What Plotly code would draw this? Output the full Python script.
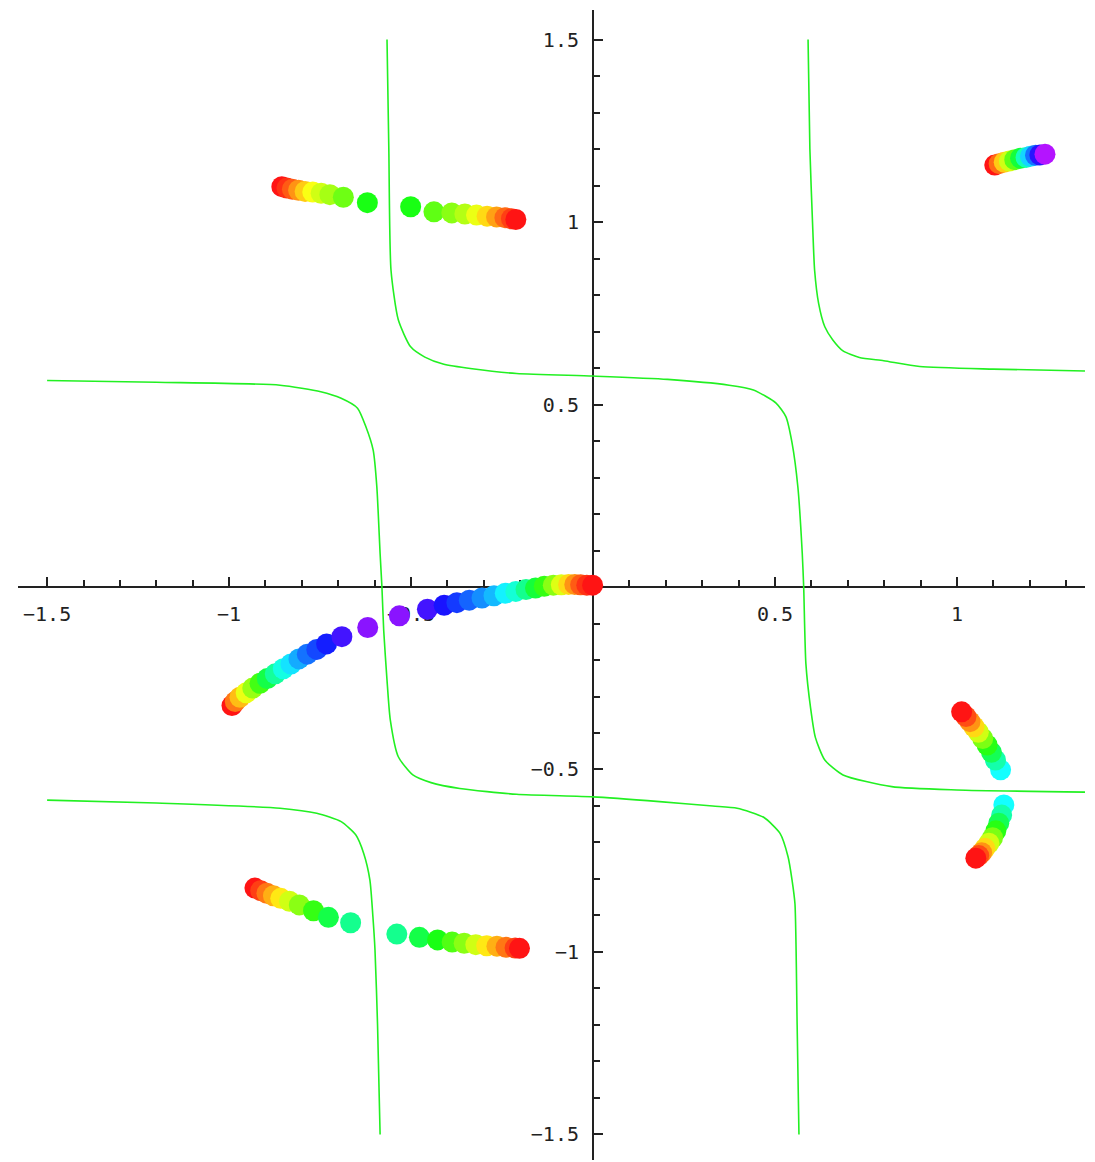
import colorsys
import plotly.graph_objects as go

# ---- green level curves (x, y pairs) ----
curve1_x = [-0.566, -0.561, -0.555, -0.535, -0.501, -0.462, -0.412, -0.332, -0.210, 0.0,
            0.205, 0.374, 0.441, 0.503, 0.530, 0.547, 0.563, 0.575, 0.579, 0.585,
            0.598, 0.611, 0.637, 0.687, 0.821, 1.0, 1.352]
curve1_y = [1.50, 1.20, 0.868, 0.732, 0.658, 0.630, 0.611, 0.598, 0.585, 0.578,
            0.569, 0.553, 0.540, 0.504, 0.467, 0.395, 0.274, 0.093, 0.0, -0.210,
            -0.332, -0.412, -0.474, -0.515, -0.547, -0.556, -0.562]

curve2_x = [-1.5, -1.2, -0.860, -0.748, -0.692, -0.647, -0.624, -0.604, -0.594, -0.585,
            -0.580, -0.575, -0.566, -0.557, -0.535, -0.495, -0.445, -0.366, -0.210, 0.0,
            0.183, 0.329, 0.396, 0.469, 0.514, 0.536, 0.547, 0.555, 0.561, 0.566]
curve2_y = [0.566, 0.561, 0.553, 0.535, 0.517, 0.490, 0.439, 0.375, 0.275, 0.092,
            0.0, -0.120, -0.255, -0.364, -0.465, -0.515, -0.536, -0.552, -0.568, -0.575,
            -0.588, -0.600, -0.606, -0.631, -0.675, -0.739, -0.803, -0.868, -1.20, -1.50]

curve3_x = [0.591, 0.596, 0.604, 0.609, 0.620, 0.637, 0.659, 0.687, 0.732, 0.799,
            0.898, 1.10, 1.352]
curve3_y = [1.50, 1.20, 0.98, 0.868, 0.777, 0.713, 0.677, 0.647, 0.629, 0.620,
            0.604, 0.597, 0.592]

curve4_x = [-1.5, -1.2, -0.860, -0.759, -0.692, -0.652, -0.630, -0.613, -0.605, -0.599,
            -0.592, -0.585]
curve4_y = [-0.584, -0.592, -0.606, -0.620, -0.643, -0.679, -0.730, -0.803, -0.900, -0.995,
            -1.20, -1.50]

# ---- coloured point tracks (position + hue) ----
centre_x = [-0.992, -0.983, -0.970, -0.953, -0.935, -0.915, -0.895, -0.873, -0.851, -0.830,
            -0.808, -0.785, -0.759, -0.732, -0.690, -0.619, -0.532, -0.455, -0.409, -0.374,
            -0.340, -0.305, -0.272, -0.241, -0.212, -0.184, -0.158, -0.134, -0.109, -0.087,
            -0.067, -0.050, -0.034, -0.017, -0.001]
centre_y = [-0.325, -0.314, -0.302, -0.290, -0.277, -0.264, -0.251, -0.238, -0.224, -0.211,
            -0.197, -0.184, -0.171, -0.156, -0.136, -0.111, -0.079, -0.061, -0.050, -0.043,
            -0.036, -0.030, -0.024, -0.017, -0.012, -0.007, -0.003, 0.002, 0.005, 0.006,
            0.007, 0.007, 0.006, 0.005, 0.005]
centre_hue = [0.0, 0.07, 0.12, 0.18, 0.24, 0.30, 0.37, 0.43, 0.48, 0.52,
              0.56, 0.60, 0.63, 0.66, 0.70, 0.75, 0.75, 0.70, 0.67, 0.64,
              0.61, 0.58, 0.55, 0.51, 0.47, 0.42, 0.36, 0.31, 0.25, 0.19,
              0.14, 0.09, 0.05, 0.02, 0.0]

upper_x = [-0.855, -0.841, -0.826, -0.809, -0.791, -0.770, -0.747, -0.723, -0.686, -0.620,
           -0.501, -0.437, -0.388, -0.352, -0.320, -0.291, -0.265, -0.242, -0.224, -0.212]
upper_y = [1.097, 1.093, 1.090, 1.087, 1.084, 1.082, 1.079, 1.075, 1.068, 1.053,
           1.042, 1.028, 1.025, 1.022, 1.019, 1.016, 1.014, 1.012, 1.009, 1.007]
upper_hue = [0.0, 0.02, 0.05, 0.09, 0.13, 0.17, 0.20, 0.23, 0.27, 0.33,
             0.33, 0.28, 0.25, 0.22, 0.18, 0.14, 0.10, 0.06, 0.03, 0.0]

lower_x = [-0.929, -0.913, -0.896, -0.878, -0.858, -0.834, -0.807, -0.768, -0.727, -0.666,
           -0.539, -0.477, -0.427, -0.387, -0.354, -0.322, -0.292, -0.264, -0.239, -0.214, -0.202]
lower_y = [-0.825, -0.832, -0.839, -0.846, -0.853, -0.861, -0.871, -0.887, -0.905, -0.920,
           -0.951, -0.960, -0.967, -0.973, -0.976, -0.980, -0.983, -0.984, -0.987, -0.989, -0.990]
lower_hue = [0.0, 0.03, 0.07, 0.11, 0.15, 0.20, 0.25, 0.31, 0.37, 0.42,
             0.42, 0.37, 0.33, 0.29, 0.25, 0.20, 0.15, 0.11, 0.07, 0.03, 0.0]

corner_x = [1.104, 1.116, 1.130, 1.144, 1.159, 1.175, 1.190, 1.202, 1.216, 1.228, 1.242]
corner_y = [1.156, 1.160, 1.164, 1.167, 1.171, 1.175, 1.177, 1.180, 1.183, 1.184, 1.186]
corner_hue = [0.0, 0.06, 0.13, 0.20, 0.28, 0.36, 0.45, 0.53, 0.60, 0.68, 0.78]

arc_top_x = [1.120, 1.106, 1.095, 1.083, 1.071, 1.059, 1.047, 1.036, 1.025, 1.013]
arc_top_y = [-0.501, -0.474, -0.453, -0.433, -0.415, -0.398, -0.383, -0.369, -0.355, -0.342]
arc_top_hue = [0.50, 0.44, 0.38, 0.32, 0.26, 0.20, 0.14, 0.09, 0.04, 0.0]

arc_bot_x = [1.129, 1.123, 1.115, 1.107, 1.098, 1.088, 1.077, 1.068, 1.060, 1.052]
arc_bot_y = [-0.597, -0.625, -0.647, -0.668, -0.687, -0.702, -0.716, -0.728, -0.736, -0.743]
arc_bot_hue = [0.50, 0.44, 0.38, 0.32, 0.26, 0.20, 0.14, 0.09, 0.04, 0.0]

# ---- axis ticks ----
x_tickvals = [-1.5, -1.0, -0.5, 0.5, 1.0]
x_ticktext = ["\u22121.5", "\u22121", "\u22120.5", "0.5", "1"]
y_tickvals = [-1.5, -1.0, -0.5, 0.5, 1.0, 1.5]
y_ticktext = ["\u22121.5", "\u22121", "\u22120.5", "0.5", "1", "1.5"]

X_RANGE = [-1.580, 1.352]
Y_RANGE = [-1.570, 1.581]


def hue_colors(hues):
    out = []
    for h in hues:
        r, g, b = colorsys.hsv_to_rgb(h, 0.92, 1.0)
        out.append("rgb(%d,%d,%d)" % (round(r * 255), round(g * 255), round(b * 255)))
    return out


fig = go.Figure()

for cx, cy in [(curve1_x, curve1_y), (curve2_x, curve2_y),
               (curve3_x, curve3_y), (curve4_x, curve4_y)]:
    fig.add_trace(go.Scatter(
        x=cx, y=cy, mode="lines",
        line=dict(color="#22f022", width=1.6, shape="spline", smoothing=0.6),
        hoverinfo="skip",
    ))

for tx, ty, th in [(centre_x, centre_y, centre_hue), (upper_x, upper_y, upper_hue),
                   (lower_x, lower_y, lower_hue), (corner_x, corner_y, corner_hue),
                   (arc_top_x, arc_top_y, arc_top_hue), (arc_bot_x, arc_bot_y, arc_bot_hue)]:
    fig.add_trace(go.Scatter(
        x=tx, y=ty, mode="markers",
        marker=dict(size=21, color=hue_colors(th), line=dict(width=0), opacity=1),
    ))

axis_common = dict(
    showline=True, linecolor="#222", linewidth=2,
    ticks="inside", ticklen=9, tickwidth=2, tickcolor="#222",
    tickfont=dict(family="DejaVu Sans Mono", size=20, color="#222"),
    showgrid=False, zeroline=False, layer="below traces",
    automargin=False, anchor="free",
    minor=dict(tickmode="linear", tick0=0, dtick=0.1, ticks="inside",
               ticklen=6, tickwidth=1.5, tickcolor="#222"),
)

x_pos = (0 - Y_RANGE[0]) / (Y_RANGE[1] - Y_RANGE[0])
y_pos = (0 - X_RANGE[0]) / (X_RANGE[1] - X_RANGE[0])

fig.update_layout(
    width=1095, height=1162,
    margin=dict(l=18, r=10, t=10, b=2),
    paper_bgcolor="white", plot_bgcolor="white",
    showlegend=False,
    xaxis=dict(range=X_RANGE, position=x_pos, side="bottom",
               tickmode="array", tickvals=x_tickvals, ticktext=x_ticktext,
               ticklabelstandoff=9, **axis_common),
    yaxis=dict(range=Y_RANGE, position=y_pos, side="left",
               tickmode="array", tickvals=y_tickvals, ticktext=y_ticktext,
               ticklabelstandoff=9, **axis_common),
)

fig.write_html("out.html")
